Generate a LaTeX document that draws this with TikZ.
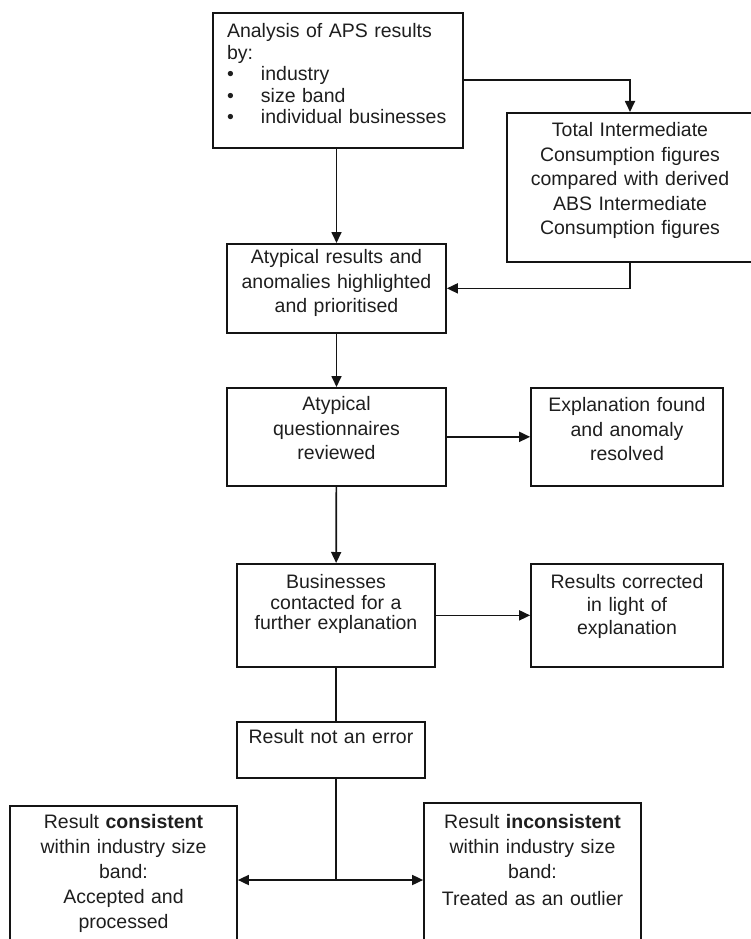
\documentclass[tikz,border=0pt]{standalone}
\usepackage{fontspec}
\setmainfont{Liberation Sans}
\usepackage{tikz}
\usetikzlibrary{arrows.meta,positioning}
\definecolor{boxtext}{RGB}{30,30,30}
\definecolor{boxline}{RGB}{20,20,20}

\begin{document}
\begin{tikzpicture}[
x=1pt,y=-1pt,
stepbox/.style={draw=boxline,line width=1.7pt,anchor=north,align=center,
  inner xsep=4pt,inner ysep=0pt,text=boxtext,
  font=\fontsize{19.5}{24.5}\selectfont},
flow/.style={->,line width=1.7pt,draw=boxline,>={Triangle[length=11pt,width=10pt]}}]
    % Page size
    \useasboundingbox (0,0) rectangle (751,939);

    % Boxes
    \node (aps) [stepbox,align=left,inner xsep=14pt,text width=222pt,
        text height=25pt,text depth=110pt,
        font=\fontsize{19.5}{21.5}\selectfont] at (338,12)
        {Analysis of APS results\\ by:\\
         \makebox[34pt][l]{•}industry\\
         \makebox[34pt][l]{•}size band\\
         \makebox[34pt][l]{•}individual businesses};
    \node (total) [stepbox,text width=238pt,text height=24pt,text depth=125pt] at (630,112)
        {Total Intermediate\\ Consumption figures\\ compared with derived\\
         ABS Intermediate\\ Consumption figures};
    \node (atyp) [stepbox,text width=211pt,text height=20pt,text depth=69pt,
        font=\fontsize{19.5}{24.3}\selectfont] at (336.5,243)
        {Atypical results and\\ anomalies highlighted\\ and prioritised};
    \node (quest) [stepbox,text width=211pt,text height=23pt,text depth=75pt] at (336.5,387)
        {Atypical\\ questionnaires\\ reviewed};
    \node (found) [stepbox,text width=184pt,text height=24pt,text depth=74pt] at (627,387)
        {Explanation found\\ and anomaly\\ resolved};
    \node (contact) [stepbox,text width=190pt,text height=25pt,text depth=78pt,
        font=\fontsize{19.5}{20.5}\selectfont] at (336,563)
        {Businesses\\ contacted for a\\ further explanation};
    \node (corrected) [stepbox,text width=184pt,text height=25pt,text depth=78pt,
        font=\fontsize{19.5}{23}\selectfont] at (627,563)
        {Results corrected\\ in light of\\ explanation};
    \node (noerror) [stepbox,text width=180pt,text height=22pt,text depth=34pt] at (331,721)
        {Result not an error};
    \node (consist) [stepbox,text width=219pt,text height=23pt,text depth=200pt,
        font=\fontsize{19.5}{25}\selectfont] at (123.5,805)
        {Result \textbf{consistent}\\ within industry size\\ band:\\ Accepted and\\ processed};
    \node (inconsist) [stepbox,text width=209pt,text height=26pt,text depth=200pt,
        font=\fontsize{19.5}{25}\selectfont] at (532.5,802)
        {Result \textbf{inconsistent}\\ within industry size\\ band:\\[2pt] Treated as an outlier};

    \coordinate (split) at (contact.south |- 0,880);

    % Arrows
    \draw[flow] (atyp.north |- aps.south) -- (atyp.north);
    \draw[flow] (aps.east) -| (total.north);
    \draw[flow] (total.south) |- (atyp.east);
    \draw[flow] (atyp) -- (quest);
    \draw[flow] (quest) -- (found);
    \draw[flow] (quest) -- (contact);
    \draw[flow] (contact) -- (corrected);
    \draw[flow,-] (contact.south) -- (contact.south |- noerror.north);
    \draw[flow,-] (contact.south |- noerror.south) -- (split);
    \draw[flow,<->] (consist.east |- split) -- (inconsist.west |- split);

\end{tikzpicture}
\end{document}
